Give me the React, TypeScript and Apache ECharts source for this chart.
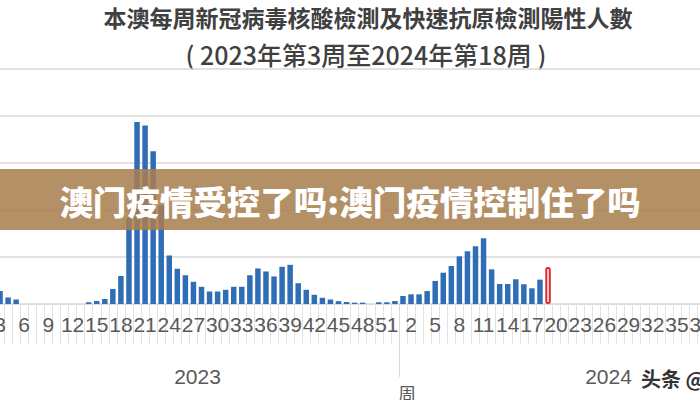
import React, { useEffect, useRef } from "react";
import * as echarts from "echarts";

const TITLE = "本澳每周新冠病毒核酸檢測及快速抗原檢測陽性人數";
const SUBTITLE = "( 2023年第3周至2024年第18周 )";
const BANNER = "澳门疫情受控了吗:澳门疫情控制住了吗";
const WATERMARK = "头条 @";
const AXIS_NAME = "周";
const YEARS = ["2023", "2024"];

// week categories shown on the axis
const weeks2023: number[] = [];
for (let w = 3; w <= 52; w++) weeks2023.push(w);
const weeks2024: number[] = [];
for (let w = 1; w <= 52; w++) weeks2024.push(w);

// weekly positive counts, 2023 week 3 .. week 52
const cases2023 = [
  138, 69, 48, 0, 0, 0, 0, 0, 0, 0, 0, 18, 32, 53, 160, 298, 915, 1935, 1900, 1625,
  1050, 516, 375, 306, 236, 183, 133, 133, 151, 183, 183, 306, 378, 346, 293, 396, 417, 221, 151, 98,
  66, 48, 30, 21, 14, 14, 0, 18, 18, 32,
];
// weekly positive counts, 2024 week 1 .. latest (last one highlighted)
const cases2024 = [85, 103, 103, 138, 245, 333, 404, 507, 561, 614, 699, 369, 213, 213, 263, 210, 167, 259, 394];

const Y_MAX = 2500;
const Y_STEP = 500;

export default function App() {
  const ref = useRef<HTMLDivElement>(null);
  useEffect(() => {
    if (!ref.current) return;
    const chart = echarts.init(ref.current, undefined, { renderer: "svg" });
    const categories = [
      ...weeks2023.map((w) => `${YEARS[0]}-${w}`),
      ...weeks2024.map((w) => `${YEARS[1]}-${w}`),
    ];
    const values = [...cases2023, ...cases2024];
    const lastIdx = values.length - 1;
    const seriesData = values.map((v, i) =>
      i === lastIdx
        ? {
            value: v,
            itemStyle: { color: "#ffffff", borderColor: "#e3262d", borderWidth: 2, borderRadius: 1.5 },
          }
        : v
    );
    const n2023 = weeks2023.length;
    const n2024 = weeks2024.length;
    const lbl2023 = Math.floor(n2023 / 2);
    const lbl2024 = n2023 + Math.floor(n2024 / 2);
    const labelFont = "'Liberation Sans', sans-serif";

    chart.setOption({
      animation: false,
      backgroundColor: "#ffffff",
      grid: { left: -4, right: -118, top: 69, bottom: 96, containLabel: false, outerBoundsMode: "none" },
      xAxis: [
        {
          type: "category",
          data: categories,
          position: "bottom",
          name: AXIS_NAME,
          nameLocation: "middle",
          nameGap: 80,
          nameTextStyle: { color: "#595959", fontSize: 18, fontFamily: "Noto Sans CJK SC" },
          axisLine: { show: true, lineStyle: { color: "#d9d9d9", width: 1 } },
          axisTick: { show: true, interval: 0, length: 40, lineStyle: { color: "#e2e2e2", width: 1 } },
          axisLabel: {
            interval: 2,
            margin: 10,
            fontSize: 21,
            color: "#595959",
            fontFamily: labelFont,
            formatter: (v: string) => v.split("-")[1],
          },
          splitLine: { show: false },
        },
        {
          type: "category",
          data: categories,
          position: "bottom",
          axisLine: { show: false },
          axisTick: {
            show: true,
            interval: (i: number) => i === 0 || i === n2023,
            length: 73,
            lineStyle: { color: "#d9d9d9", width: 1 },
          },
          axisLabel: {
            interval: (i: number) => i === lbl2023 || i === lbl2024,
            margin: 62,
            fontSize: 21,
            color: "#595959",
            fontFamily: labelFont,
            padding: [0, 8, 0, 0],
            formatter: (v: string) => v.split("-")[0],
          },
          splitLine: { show: false },
        },
      ],
      yAxis: {
        type: "value",
        min: 0,
        max: Y_MAX,
        interval: Y_STEP,
        axisLabel: { show: false },
        axisLine: { show: false },
        axisTick: { show: false },
        splitLine: { lineStyle: { color: "#d9d9d9", width: 1.5 } },
      },
      series: [
        {
          type: "bar",
          xAxisIndex: 0,
          data: seriesData,
          barWidth: "68%",
          itemStyle: { color: "#2f6db5" },
        },
      ],
      graphic: [
        {
          type: "text",
          x: 368,
          y: 17,
          style: {
            text: TITLE,
            font: "bold 23px 'Noto Sans CJK TC'",
            fill: "#404040",
            align: "center",
            verticalAlign: "middle",
          },
        },
        {
          type: "text",
          x: 366,
          y: 54,
          style: {
            text: SUBTITLE,
            font: "500 25px 'Noto Sans CJK TC'",
            fill: "#404040",
            align: "center",
            verticalAlign: "middle",
          },
        },
        {
          type: "rect",
          z: 100,
          shape: { x: 0, y: 169, width: 700, height: 61 },
          style: { fill: "rgba(168,126,77,0.86)" },
        },
        {
          type: "text",
          z: 101,
          x: 350,
          y: 200,
          style: {
            text: BANNER,
            font: "900 33.5px 'Noto Sans CJK SC'",
            fill: "#ffffff",
            align: "center",
            verticalAlign: "middle",
          },
        },
        {
          type: "text",
          z: 101,
          x: 641,
          y: 378,
          style: {
            text: WATERMARK,
            font: "bold 20px 'Noto Sans CJK SC'",
            fill: "#333333",
            align: "left",
            verticalAlign: "middle",
          },
        },
      ],
    });
    return () => chart.dispose();
  }, []);
  return (
    <div
      ref={ref}
      style={{ position: "fixed", left: 0, top: 0, width: 700, height: 400 }}
    />
  );
}
